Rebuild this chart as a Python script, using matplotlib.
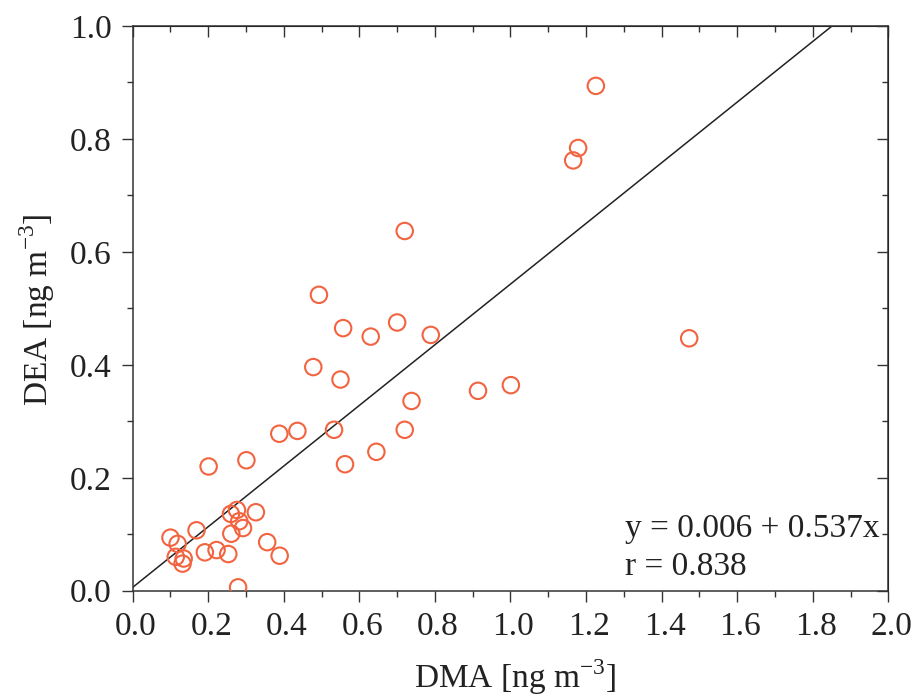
import matplotlib
matplotlib.use("Agg")
import matplotlib.pyplot as plt
import numpy as np
from matplotlib.transforms import ScaledTranslation

plt.rcParams['font.family'] = ['Liberation Serif', 'DejaVu Serif']
plt.rcParams['mathtext.fontset'] = 'custom'
plt.rcParams['mathtext.rm'] = 'Liberation Serif'

dma = [1.226, 1.179, 1.166, 0.720, 0.493, 0.557, 0.630, 0.700, 0.789, 1.473,
       0.478, 0.550, 1.001, 0.914, 0.738, 0.388, 0.436, 0.533, 0.720, 0.645,
       0.562, 0.201, 0.301, 0.100, 0.119, 0.114, 0.135, 0.132, 0.169, 0.191,
       0.222, 0.253, 0.260, 0.276, 0.282, 0.292, 0.261, 0.326, 0.356, 0.389,
       0.279]
dea = [0.894, 0.784, 0.762, 0.637, 0.524, 0.465, 0.450, 0.475, 0.453, 0.447,
       0.396, 0.374, 0.364, 0.354, 0.336, 0.278, 0.283, 0.285, 0.285, 0.246,
       0.224, 0.220, 0.231, 0.094, 0.083, 0.060, 0.057, 0.048, 0.107, 0.068,
       0.072, 0.065, 0.136, 0.143, 0.123, 0.111, 0.101, 0.139, 0.086, 0.062,
       0.006]
intercept = 0.006
slope = 0.537
r_value = 0.838

W, H = 917, 699
fig = plt.figure(figsize=(W / 100, H / 100), dpi=100)
ax = fig.add_axes([0.1447, 0.1549, 0.824, 0.8079])

ax.scatter(dma, dea, s=140, facecolors='none', edgecolors='#F26440',
           linewidths=1.5, zorder=3)

xl = np.array([0.0, 2.0])
ax.plot(xl, intercept + slope * xl, color='#222222', lw=1.1, zorder=2)

ax.set_xlim(0, 2.0)
ax.set_ylim(0, 1.0)
ax.set_xticks(np.arange(0, 2.01, 0.2))
ax.set_yticks(np.arange(0, 1.01, 0.2))
ax.set_xticks(np.arange(0.1, 2.0, 0.2), minor=True)
ax.set_yticks(np.arange(0.1, 1.0, 0.2), minor=True)
ax.xaxis.set_major_formatter(matplotlib.ticker.FormatStrFormatter('%.1f'))
ax.yaxis.set_major_formatter(matplotlib.ticker.FormatStrFormatter('%.1f'))

for sp in ax.spines.values():
    sp.set_linewidth(1.1)
    sp.set_color('#333333')

ax.tick_params(which='both', direction='out', top=False, right=False,
               labelsize=24, color='#333333', labelcolor='#222222', width=1.0, pad=7)
ax.tick_params(which='major', length=8)
ax.tick_params(which='minor', length=4)

axt = ax.secondary_xaxis('top')
axt.set_xticks(np.arange(0, 2.01, 0.2))
axt.set_xticks(np.arange(0.1, 2.0, 0.2), minor=True)
axt.tick_params(which='both', direction='in', labeltop=False, color='#333333', width=1.0)
axt.tick_params(which='major', length=8)
axt.tick_params(which='minor', length=4)
axt.set_xticklabels([])
axr = ax.secondary_yaxis('right')
axr.set_yticks(np.arange(0, 1.01, 0.2))
axr.set_yticks(np.arange(0.1, 1.0, 0.2), minor=True)
axr.tick_params(which='both', direction='in', labelright=False, color='#333333', width=1.0)
axr.tick_params(which='major', length=8)
axr.tick_params(which='minor', length=4)
axr.set_yticklabels([])

off = ScaledTranslation(3 / 100, 0, fig.dpi_scale_trans)
for lab in ax.get_xticklabels():
    lab.set_transform(lab.get_transform() + off)

fig.text(515 / W, 1 - 688 / H, r'DMA [ng m$^{\mathregular{-3}}$]', fontsize=24,
         ha='center', va='baseline', color='#222222')
fig.text(48 / W, 1 - 310 / H, r'DEA [ng m$^{\mathregular{-3}}$]', fontsize=24,
         ha='center', va='baseline', rotation=90, rotation_mode='anchor',
         color='#222222')

ax.text(0.6515, 0.095, f'y = {intercept:.3f} + {slope:.3f}x', transform=ax.transAxes,
        fontsize=24, va='baseline', ha='left', color='#222222')
ax.text(0.6515, 0.0276, f'r = {r_value:.3f}', transform=ax.transAxes,
        fontsize=24, va='baseline', ha='left', color='#222222')

fig.savefig('out.png', dpi=100, facecolor='white')
